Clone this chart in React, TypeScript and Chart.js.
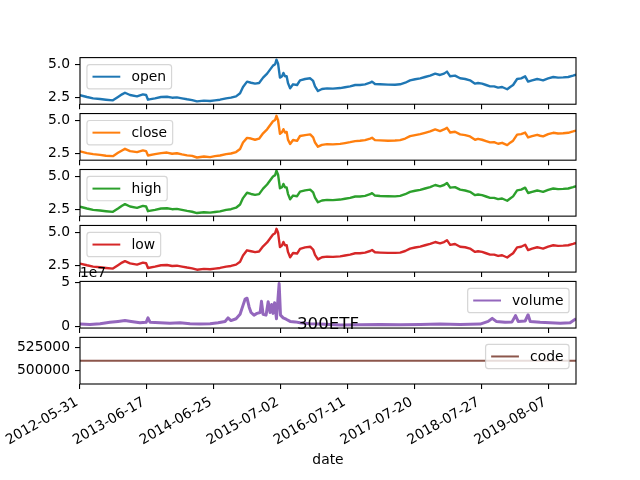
import React, { useEffect, useRef } from "react";
import { Chart, registerables } from "chart.js";

Chart.register(...registerables);

const FONT = '"DejaVu Sans", sans-serif';
const FS = 13.89;

// ---- data ----
const dateTickIndex = [0, 250, 500, 750, 1000, 1250, 1500, 1750];
const dateTickLabels = ["2012-05-31", "2013-06-17", "2014-06-25", "2015-07-02", "2016-07-11", "2017-07-20", "2018-07-27", "2019-08-07"];
const lastIndex = 1853;

const priceIndex = [
  0, 26, 49, 75, 97, 123, 142, 157, 168, 187,
  213, 235, 247, 254, 280, 303, 325, 344, 362, 381,
  400, 419, 437, 463, 486, 504, 523, 546, 564, 583,
  598, 609, 624, 639, 654, 669, 684, 699, 710, 721,
  729, 734, 740, 747, 755, 760, 766, 772, 777, 785,
  796, 811, 822, 841, 860, 871, 878, 889, 904, 923,
  945, 972, 990, 1009, 1028, 1046, 1065, 1084, 1091, 1102,
  1121, 1151, 1177, 1196, 1215, 1233, 1252, 1271, 1289, 1308,
  1327, 1345, 1360, 1371, 1383, 1401, 1420, 1439, 1457, 1476,
  1487, 1502, 1517, 1532, 1547, 1562, 1577, 1596, 1607, 1618,
  1633, 1648, 1663, 1674, 1689, 1708, 1719, 1730, 1749, 1768,
  1786, 1805, 1824, 1842, 1853,
];

const openValues = [
  2.68, 2.55, 2.45, 2.40, 2.35, 2.30, 2.55, 2.75, 2.87, 2.70,
  2.60, 2.75, 2.70, 2.35, 2.45, 2.55, 2.57, 2.50, 2.52, 2.45,
  2.38, 2.32, 2.22, 2.28, 2.25, 2.30, 2.35, 2.45, 2.50, 2.60,
  2.83, 3.30, 3.70, 3.62, 3.55, 3.60, 4.00, 4.30, 4.60, 4.90,
  5.00, 5.35, 5.05, 4.00, 4.10, 4.35, 4.10, 4.10, 3.60, 3.20,
  3.50, 3.45, 3.80, 3.90, 3.95, 3.75, 3.35, 3.00, 3.15, 3.20,
  3.18, 3.22, 3.28, 3.35, 3.45, 3.45, 3.50, 3.62, 3.70, 3.52,
  3.50, 3.48, 3.47, 3.50, 3.62, 3.80, 3.88, 3.95, 4.05, 4.15,
  4.30, 4.20, 4.30, 4.45, 4.10, 4.15, 3.95, 3.90, 3.80, 3.55,
  3.60, 3.55, 3.45, 3.35, 3.35, 3.25, 3.30, 3.13, 3.30, 3.45,
  3.90, 3.95, 4.10, 3.70, 3.80, 3.90, 3.85, 3.80, 3.95, 4.05,
  4.00, 4.02, 4.05, 4.15, 4.22,
];

const closeValues = [
  2.67, 2.54, 2.46, 2.41, 2.34, 2.31, 2.56, 2.74, 2.86, 2.69,
  2.61, 2.74, 2.69, 2.36, 2.46, 2.54, 2.58, 2.49, 2.53, 2.44,
  2.37, 2.33, 2.21, 2.29, 2.24, 2.31, 2.36, 2.46, 2.51, 2.62,
  2.85, 3.33, 3.68, 3.63, 3.54, 3.62, 4.02, 4.32, 4.62, 4.92,
  5.02, 5.33, 5.00, 3.98, 4.12, 4.33, 4.08, 4.12, 3.55, 3.22,
  3.52, 3.46, 3.82, 3.89, 3.94, 3.72, 3.33, 3.02, 3.16, 3.21,
  3.19, 3.23, 3.29, 3.36, 3.44, 3.46, 3.51, 3.63, 3.69, 3.51,
  3.49, 3.47, 3.48, 3.51, 3.63, 3.81, 3.89, 3.96, 4.06, 4.16,
  4.31, 4.19, 4.31, 4.43, 4.08, 4.14, 3.94, 3.89, 3.79, 3.54,
  3.61, 3.54, 3.44, 3.34, 3.36, 3.24, 3.31, 3.14, 3.32, 3.47,
  3.92, 3.96, 4.08, 3.71, 3.81, 3.91, 3.84, 3.79, 3.96, 4.06,
  4.01, 4.03, 4.06, 4.16, 4.23,
];

const highValues = [
  2.71, 2.58, 2.48, 2.43, 2.38, 2.33, 2.58, 2.79, 2.91, 2.73,
  2.63, 2.78, 2.73, 2.38, 2.48, 2.58, 2.60, 2.53, 2.55, 2.48,
  2.40, 2.34, 2.24, 2.30, 2.27, 2.32, 2.37, 2.48, 2.53, 2.64,
  2.88, 3.36, 3.76, 3.67, 3.60, 3.66, 4.07, 4.38, 4.68, 4.98,
  5.08, 5.42, 5.12, 4.10, 4.18, 4.42, 4.17, 4.16, 3.68, 3.27,
  3.55, 3.50, 3.85, 3.94, 3.99, 3.79, 3.40, 3.05, 3.18, 3.23,
  3.21, 3.25, 3.31, 3.38, 3.48, 3.48, 3.53, 3.65, 3.73, 3.55,
  3.52, 3.50, 3.49, 3.53, 3.65, 3.83, 3.91, 3.98, 4.08, 4.18,
  4.34, 4.24, 4.34, 4.49, 4.14, 4.18, 3.99, 3.93, 3.83, 3.58,
  3.63, 3.58, 3.48, 3.38, 3.38, 3.28, 3.33, 3.16, 3.33, 3.49,
  3.94, 3.99, 4.14, 3.74, 3.83, 3.93, 3.88, 3.83, 3.98, 4.08,
  4.03, 4.05, 4.08, 4.18, 4.25,
];

const lowValues = [
  2.65, 2.52, 2.42, 2.37, 2.32, 2.27, 2.52, 2.72, 2.83, 2.66,
  2.57, 2.72, 2.67, 2.32, 2.42, 2.52, 2.54, 2.47, 2.49, 2.42,
  2.35, 2.29, 2.19, 2.25, 2.22, 2.27, 2.32, 2.42, 2.47, 2.57,
  2.79, 3.25, 3.64, 3.57, 3.50, 3.55, 3.94, 4.23, 4.53, 4.82,
  4.92, 5.25, 4.95, 3.88, 4.02, 4.27, 4.02, 4.03, 3.52, 3.12,
  3.44, 3.40, 3.75, 3.86, 3.91, 3.70, 3.30, 2.96, 3.12, 3.17,
  3.15, 3.19, 3.25, 3.32, 3.42, 3.42, 3.47, 3.59, 3.66, 3.49,
  3.47, 3.45, 3.45, 3.47, 3.59, 3.77, 3.85, 3.92, 4.02, 4.12,
  4.26, 4.16, 4.26, 4.40, 4.05, 4.11, 3.91, 3.87, 3.77, 3.52,
  3.57, 3.52, 3.42, 3.32, 3.32, 3.22, 3.27, 3.10, 3.27, 3.42,
  3.86, 3.91, 4.06, 3.66, 3.77, 3.87, 3.82, 3.77, 3.92, 4.02,
  3.97, 3.99, 4.02, 4.12, 4.19,
];

const volumeIndex = [
  0, 37, 75, 112, 142, 168, 191, 224, 247, 254,
  262, 299, 336, 374, 411, 448, 486, 516, 542, 553,
  564, 583, 598, 609, 617, 624, 632, 639, 650, 661,
  673, 678, 684, 695, 703, 710, 716, 721, 727, 734,
  744, 749, 759, 770, 785, 804, 822, 860, 897, 972,
  1046, 1121, 1196, 1271, 1345, 1420, 1495, 1525, 1540, 1555,
  1588, 1614, 1627, 1637, 1663, 1674, 1682, 1719, 1756, 1794,
  1831, 1853,
];

const volumeValues = [
  3.0e6, 2.5e6, 3.5e6, 5.0e6, 6.0e6, 7.0e6, 6.0e6, 4.5e6, 5.0e6, 10.0e6,
  5.0e6, 4.5e6, 4.0e6, 4.5e6, 3.5e6, 3.0e6, 3.5e6, 4.5e6, 6.0e6, 10.0e6,
  7.0e6, 9.0e6, 14.0e6, 24.0e6, 31.0e6, 32.0e6, 22.0e6, 16.0e6, 13.0e6, 15.0e6,
  16.0e6, 28.5e6, 14.0e6, 13.0e6, 28.0e6, 16.0e6, 25.0e6, 15.0e6, 27.0e6, 9.0e6,
  48.5e6, 13.0e6, 10.0e6, 8.5e6, 6.0e6, 5.5e6, 4.5e6, 3.5e6, 3.0e6, 2.0e6,
  2.2e6, 2.5e6, 2.2e6, 2.5e6, 3.0e6, 2.5e6, 3.0e6, 6.0e6, 9.5e6, 6.0e6,
  5.0e6, 5.5e6, 12.5e6, 6.0e6, 6.5e6, 13.5e6, 6.0e6, 5.0e6, 4.5e6, 4.0e6,
  4.5e6, 9.0e6,
];

const codeIndex = [0, 1853];
const codeValues = [510300, 510300];

const priceTicks = [2.5, 5.0];
const volumeTicks = [0, 5e7];
const codeTicks = [500000, 525000];

// ---- layout (matplotlib default subplot geometry) ----
const PLOT_LEFT = 80;
const PLOT_RIGHT = 576;
const PLOT_TOP = 57.6;
const PLOT_BOTTOM = 384;
const N_PANELS = 6;
const PANEL_H = (PLOT_BOTTOM - PLOT_TOP) / (N_PANELS + 0.2 * (N_PANELS - 1));
const GAP = PANEL_H * 0.2;

type Panel = {
  name: string;
  xs: number[];
  ys: number[];
  color: string;
  lineWidth: number;
  yMin: number;
  yMax: number;
  yTicks: number[];
  yFmt: (v: number) => string;
  legendLoc: "left" | "right";
  offsetText?: string;
  title?: string;
  xlabel?: string;
};

const priceFmt = (v: number) => v.toFixed(1);

const panels: Panel[] = [
  { name: "open", xs: priceIndex, ys: openValues, color: "#1f77b4", lineWidth: 2.4, yMin: 2.01, yMax: 5.5, yTicks: priceTicks, yFmt: priceFmt, legendLoc: "left" },
  { name: "close", xs: priceIndex, ys: closeValues, color: "#ff7f0e", lineWidth: 2.4, yMin: 2.01, yMax: 5.5, yTicks: priceTicks, yFmt: priceFmt, legendLoc: "left" },
  { name: "high", xs: priceIndex, ys: highValues, color: "#2ca02c", lineWidth: 2.4, yMin: 2.01, yMax: 5.5, yTicks: priceTicks, yFmt: priceFmt, legendLoc: "left" },
  { name: "low", xs: priceIndex, ys: lowValues, color: "#d62728", lineWidth: 2.4, yMin: 2.01, yMax: 5.5, yTicks: priceTicks, yFmt: priceFmt, legendLoc: "left" },
  { name: "volume", xs: volumeIndex, ys: volumeValues, color: "#9467bd", lineWidth: 3, yMin: -1.4e6, yMax: 5.08e7, yTicks: volumeTicks, yFmt: (v) => String(Math.round(v / 1e7)), legendLoc: "right", offsetText: "1e7" },
  { name: "code", xs: codeIndex, ys: codeValues, color: "#8c564b", lineWidth: 2, yMin: 484785, yMax: 535815, yTicks: codeTicks, yFmt: (v) => String(v), legendLoc: "right", title: "300ETF", xlabel: "date" },
];

function roundRect(ctx: CanvasRenderingContext2D, x: number, y: number, w: number, h: number, r: number) {
  ctx.beginPath();
  ctx.moveTo(x + r, y);
  ctx.lineTo(x + w - r, y);
  ctx.arcTo(x + w, y, x + w, y + r, r);
  ctx.lineTo(x + w, y + h - r);
  ctx.arcTo(x + w, y + h, x + w - r, y + h, r);
  ctx.lineTo(x + r, y + h);
  ctx.arcTo(x, y + h, x, y + h - r, r);
  ctx.lineTo(x, y + r);
  ctx.arcTo(x, y, x + r, y, r);
  ctx.closePath();
}

function buildChart(canvas: HTMLCanvasElement, p: Panel, i: number) {
  const top = PLOT_TOP + i * (PANEL_H + GAP);
  const bottom = top + PANEL_H;
  const isLast = i === N_PANELS - 1;
  const xAxisH = isLast ? 480 - bottom : 6;
  const padBottom = isLast ? 0 : 480 - bottom - xAxisH;

  const decor = {
    id: "decor" + i,
    afterDatasetsDraw(chart: any) {
      const { ctx, chartArea: a } = chart;
      ctx.save();
      // frame (spines)
      ctx.strokeStyle = "#000";
      ctx.lineWidth = 1.1;
      ctx.strokeRect(a.left, a.top, a.right - a.left, a.bottom - a.top);

      // legend
      ctx.font = `${FS}px ${FONT}`;
      const tw = ctx.measureText(p.name).width;
      const pad = 0.4 * FS;
      const hl = 2 * FS;
      const htp = 0.8 * FS;
      const bap = 0.5 * FS;
      const w = pad + hl + htp + tw + pad;
      const h = 2 * pad + FS * 0.95;
      const bx = p.legendLoc === "left" ? a.left + bap : a.right - bap - w;
      const by = a.top + bap;
      roundRect(ctx, bx, by, w, h, 0.2 * FS);
      ctx.fillStyle = "rgba(255,255,255,0.8)";
      ctx.fill();
      ctx.strokeStyle = "rgba(204,204,204,0.8)";
      ctx.lineWidth = 1.2;
      ctx.stroke();
      const cy = by + h / 2;
      ctx.beginPath();
      ctx.moveTo(bx + pad, cy);
      ctx.lineTo(bx + pad + hl, cy);
      ctx.strokeStyle = p.color;
      ctx.lineWidth = 2;
      ctx.stroke();
      ctx.fillStyle = "#000";
      ctx.textAlign = "left";
      ctx.textBaseline = "middle";
      ctx.fillText(p.name, bx + pad + hl + htp, cy + 0.5);

      if (p.offsetText) {
        ctx.textAlign = "left";
        ctx.textBaseline = "alphabetic";
        ctx.fillText(p.offsetText, a.left, a.top - 4);
      }
      if (p.title) {
        ctx.font = `${FS * 1.2}px ${FONT}`;
        ctx.textAlign = "center";
        ctx.textBaseline = "alphabetic";
        ctx.fillText(p.title, (a.left + a.right) / 2, a.top - 8.3);
      }
      if (p.xlabel) {
        ctx.font = `${FS}px ${FONT}`;
        ctx.textAlign = "center";
        ctx.textBaseline = "alphabetic";
        ctx.fillText(p.xlabel, (a.left + a.right) / 2, 464);
      }
      ctx.restore();
    },
  };

  return new Chart(canvas, {
    type: "line",
    data: {
      datasets: [
        {
          label: p.name,
          data: p.xs.map((x, k) => ({ x, y: p.ys[k] })),
          borderColor: p.color,
          backgroundColor: p.color,
          borderWidth: p.lineWidth,
          pointRadius: 0,
          tension: 0,
          fill: false,
          borderJoinStyle: "round",
        },
      ],
    },
    options: {
      responsive: false,
      animation: false,
      devicePixelRatio: 1,
      events: [],
      layout: { padding: { top, bottom: padBottom, left: 0, right: 640 - PLOT_RIGHT } },
      plugins: { legend: { display: false }, tooltip: { enabled: false }, title: { display: false } },
      scales: {
        x: {
          type: "linear",
          min: 0,
          max: lastIndex,
          afterBuildTicks: (s: any) => {
            s.ticks = dateTickIndex.map((v) => ({ value: v }));
          },
          afterFit: (s: any) => {
            s.height = xAxisH;
          },
          grid: { drawOnChartArea: false, drawTicks: true, tickLength: 5, color: "#000", lineWidth: 1.1 },
          border: { display: false },
          ticks: {
            display: isLast,
            autoSkip: false,
            minRotation: 30,
            maxRotation: 30,
            padding: 5,
            labelOffset: -3,
            color: "#000",
            font: { family: FONT, size: FS },
            callback: (v: any) => {
              const k = dateTickIndex.indexOf(Number(v));
              return k >= 0 ? dateTickLabels[k] : "";
            },
          },
        },
        y: {
          type: "linear",
          min: p.yMin,
          max: p.yMax,
          afterBuildTicks: (s: any) => {
            s.ticks = p.yTicks.map((v) => ({ value: v }));
          },
          afterFit: (s: any) => {
            s.width = PLOT_LEFT;
          },
          grid: { drawOnChartArea: false, drawTicks: true, tickLength: 5, color: "#000", lineWidth: 1.1 },
          border: { display: false },
          ticks: {
            padding: 5,
            color: "#000",
            font: { family: FONT, size: FS },
            callback: (v: any) => p.yFmt(Number(v)),
          },
        },
      },
    } as any,
    plugins: [decor],
  });
}

export default function App() {
  const refs = useRef<(HTMLCanvasElement | null)[]>([]);

  useEffect(() => {
    const charts = panels.map((p, i) => buildChart(refs.current[i] as HTMLCanvasElement, p, i));
    return () => {
      charts.forEach((c) => c.destroy());
    };
  }, []);

  return (
    <div style={{ position: "fixed", left: 0, top: 0, width: 640, height: 480, background: "#fff" }}>
      {panels.map((p, i) => (
        <canvas
          key={p.name}
          ref={(el) => {
            refs.current[i] = el;
          }}
          width={640}
          height={480}
          style={{ position: "absolute", left: 0, top: 0, width: 640, height: 480 }}
        />
      ))}
    </div>
  );
}
